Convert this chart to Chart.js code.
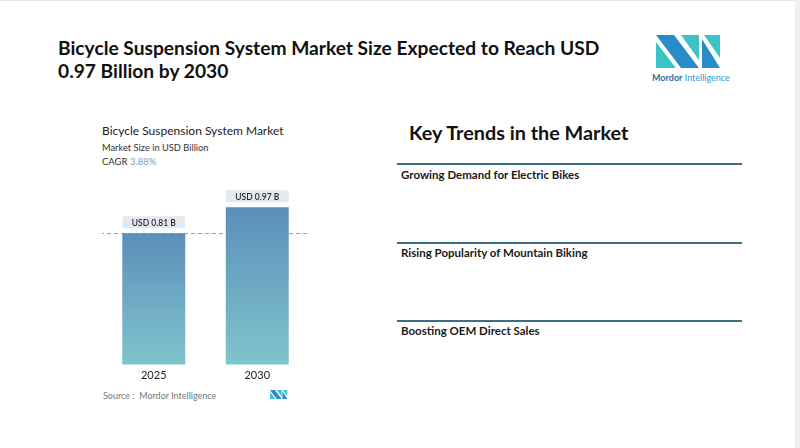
<!DOCTYPE html>
<html>
<head>
<meta charset="utf-8">
<script src="https://cdn.jsdelivr.net/npm/chart.js@4.4.1/dist/chart.umd.min.js"></script>
<style>
  html, body { margin:0; padding:0; background:#fff; }
  #page { position:relative; width:800px; height:448px; overflow:hidden; background:#fff; font-family: Lato, "Open Sans", sans-serif; }
  .abs { position:absolute; white-space:nowrap; }
  #title { left:58px; top:36px; font-family: Lato, sans-serif; font-weight:700; font-size:19.2px; line-height:23px; color:#111; }
  #ctitle { left:102px; top:123px; font-size:12px; color:#222; }
  #csub { left:102px; top:142px; font-size:9.3px; color:#333; }
  #cagr { left:102px; top:156px; font-size:9.5px; color:#333; }
  #cagr span { color:#6fa3c9; }
  #source { left:103px; top:390px; font-size:9px; color:#777; }
  #kt { left:409px; top:120px; font-family: Lato, sans-serif; font-weight:700; font-size:19.8px; color:#111; }
  .rule { position:absolute; left:397px; width:345px; height:2px; background:#3e6f88; }
  .trend { left:401px; font-weight:700; font-size:11.5px; color:#1a1a1a; }
  #chartbox { position:absolute; left:102px; top:170px; width:207px; height:216px; }
  #brand { left:652px; top:72px; font-size:9px; }
  #brand .m { color:#2a6ea3; font-weight:700; }
  #brand .i { color:#3a9ccc; }
  #edge { position:absolute; right:0; top:0; width:5px; height:448px; background:#f0f0f0; }
  #topedge { position:absolute; left:0; top:0; width:800px; height:1px; background:#e8e8e8; }
</style>
</head>
<body>
<div id="page">
  <div id="topedge"></div>
  <div id="edge"></div>
  <div id="title" class="abs">Bicycle Suspension System Market Size Expected to Reach USD<br>0.97 Billion by 2030</div>

  <svg class="abs" style="left:0;top:0" width="800" height="448">
    <g id="logo">
      <polygon points="656,42 676,68 656,68" fill="#3cc2c9"/>
      <polygon points="656,35 674,35 699,68 681,68" fill="#2a8cc6"/>
      <polygon points="681,35 699,35 699,60" fill="#3cc2c9"/>
      <polygon points="702,39 720,68 702,68" fill="#2a8cc6"/>
      <polygon points="704,35 720,35 720,58" fill="#3cc2c9"/>
    </g>
    <g transform="translate(270,390) scale(0.27,0.27) translate(-656,-35)">
      <polygon points="656,42 676,68 656,68" fill="#3cc2c9"/>
      <polygon points="656,35 674,35 699,68 681,68" fill="#2a8cc6"/>
      <polygon points="681,35 699,35 699,60" fill="#3cc2c9"/>
      <polygon points="702,39 720,68 702,68" fill="#2a8cc6"/>
      <polygon points="704,35 720,35 720,58" fill="#3cc2c9"/>
    </g>
  </svg>
  <div id="brand" class="abs"><span class="m">Mordor</span><span class="i"> Intelligence</span></div>

  <div id="ctitle" class="abs">Bicycle Suspension System Market</div>
  <div id="csub" class="abs">Market Size in USD Billion</div>
  <div id="cagr" class="abs">CAGR <span>3.88%</span></div>
  <div id="chartbox"><canvas id="c"></canvas></div>
  <div id="source" class="abs">Source :&nbsp; Mordor Intelligence</div>

  <div id="kt" class="abs">Key Trends in the Market</div>
  <div class="rule" style="top:163px"></div>
  <div class="trend abs" style="top:168px">Growing Demand for Electric Bikes</div>
  <div class="rule" style="top:242px"></div>
  <div class="trend abs" style="top:246px">Rising Popularity of Mountain Biking</div>
  <div class="rule" style="top:320px"></div>
  <div class="trend abs" style="top:324px">Boosting OEM Direct Sales</div>
</div>

<script>
const years = ['2025', '2030'];
const values = [0.81, 0.97];
const valueLabels = ['USD 0.81 B', 'USD 0.97 B'];

function barGradient(ctx) {
  const chart = ctx.chart;
  const area = chart.chartArea;
  if (!area) return '#6aa5c2';
  const ys = chart.scales.y;
  const v = ctx.raw;
  const top = ys.getPixelForValue(v);
  const g = chart.ctx.createLinearGradient(0, top, 0, area.bottom);
  g.addColorStop(0, '#5b8fba');
  g.addColorStop(1, '#7fc4cc');
  return g;
}

const overlay = {
  id: 'overlay',
  beforeDatasetsDraw(chart) {
    const {ctx, chartArea} = chart;
    const y = chart.scales.y.getPixelForValue(values[0]);
    ctx.save();
    ctx.strokeStyle = '#9aa3aa';
    ctx.lineWidth = 1;
    ctx.setLineDash([4, 3]);
    ctx.beginPath();
    ctx.moveTo(chartArea.left - 2, Math.round(y) + 0.5);
    ctx.lineTo(chartArea.right + 2, Math.round(y) + 0.5);
    ctx.stroke();
    ctx.restore();
  },
  afterDatasetsDraw(chart) {
    const {ctx} = chart;
    const meta = chart.getDatasetMeta(0);
    ctx.save();
    meta.data.forEach((bar, i) => {
      const w = bar.width;
      const x = bar.x - w / 2;
      const h = 12;
      const yTop = bar.y - 17;
      ctx.fillStyle = '#e3e9ee';
      ctx.beginPath();
      if (ctx.roundRect) ctx.roundRect(x, yTop, w, h, 2); else ctx.rect(x, yTop, w, h);
      ctx.fill();
      ctx.fillStyle = '#2b2b2b';
      ctx.font = '600 8.5px Lato, sans-serif';
      ctx.textAlign = 'center';
      ctx.textBaseline = 'middle';
      ctx.fillText(valueLabels[i], bar.x, yTop + h / 2 + 0.5);
    });
    ctx.restore();
  }
};

new Chart(document.getElementById('c'), {
  type: 'bar',
  data: {
    labels: years,
    datasets: [{
      data: values,
      backgroundColor: barGradient,
      borderWidth: 0,
      barPercentage: 0.78,
      categoryPercentage: 0.78
    }]
  },
  options: {
    responsive: true,
    maintainAspectRatio: false,
    animation: false,
    events: [],
    layout: { padding: 0 },
    plugins: { legend: { display: false }, tooltip: { enabled: false } },
    scales: {
      x: {
        grid: { display: false, drawTicks: false },
        border: { display: false },
        ticks: { color: '#222', font: { family: 'Lato, sans-serif', size: 11 }, padding: 4 }
      },
      y: { display: false, min: 0, max: 1.2 }
    }
  },
  plugins: [overlay]
});
</script>
</body>
</html>
